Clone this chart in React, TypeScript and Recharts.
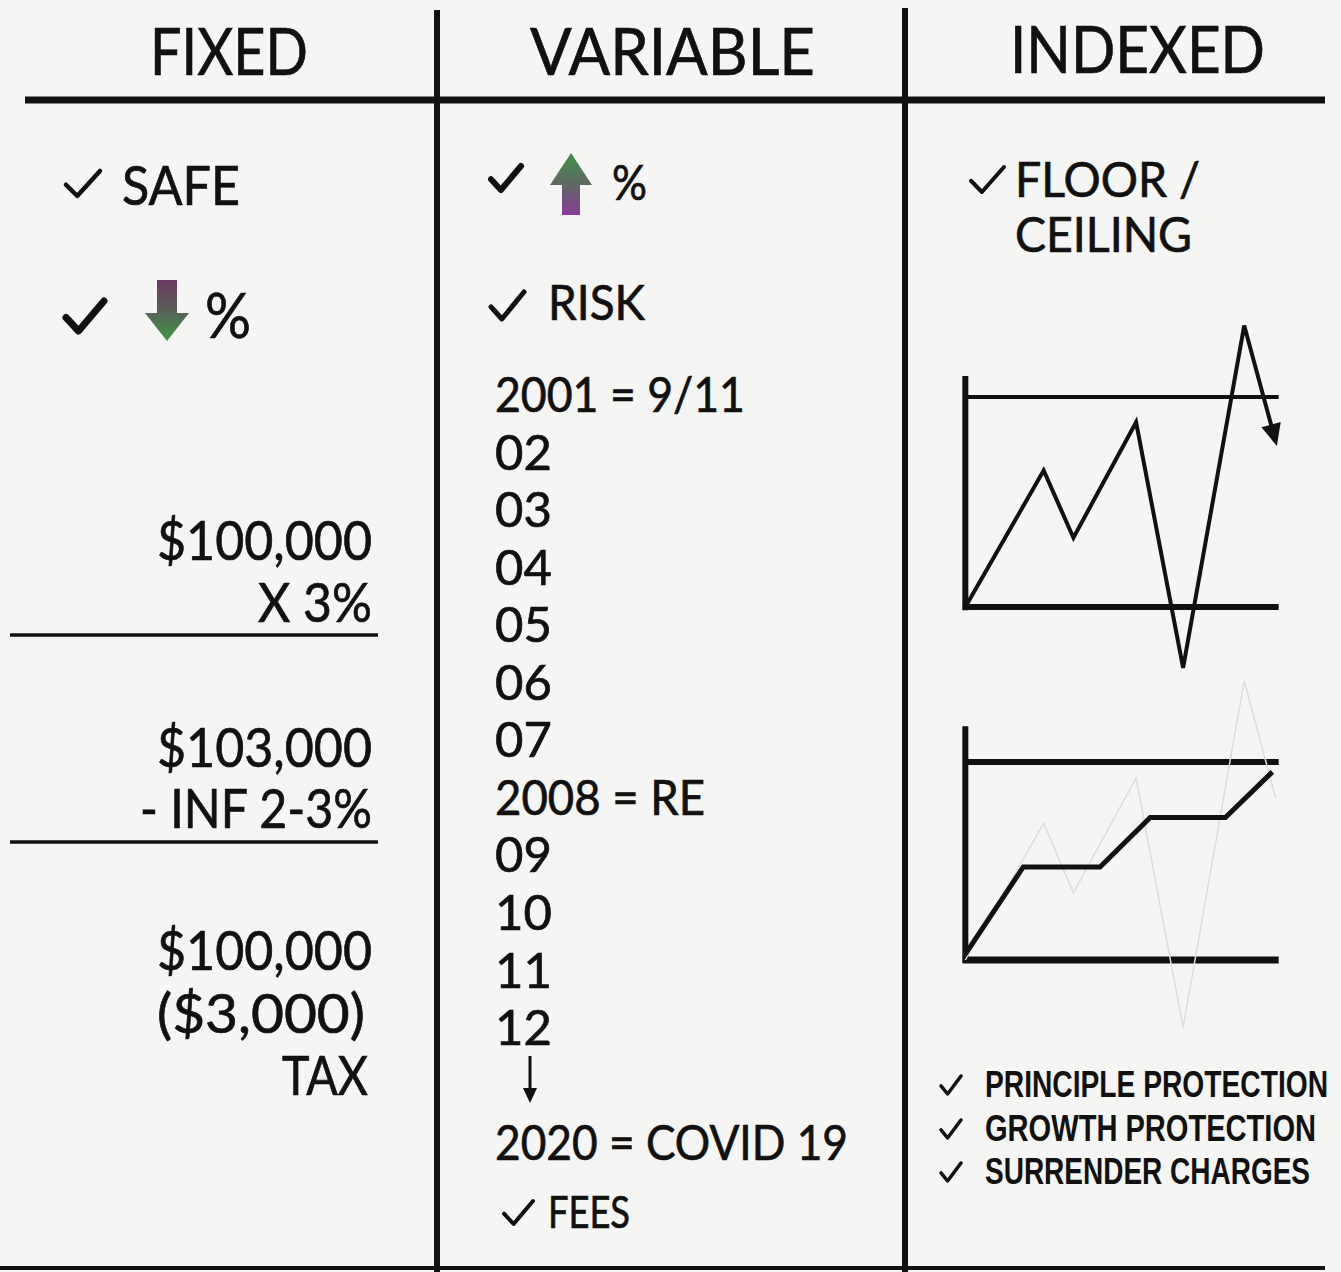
import React, { useLayoutEffect, useRef, useState } from 'react';
import { LineChart, Line, XAxis, YAxis, ReferenceLine } from 'recharts';

// ---------- data ----------
const headers = ['FIXED', 'VARIABLE', 'INDEXED'];
const fixedLines = ['$100,000', 'X 3%', '$103,000', '- INF 2-3%', '$100,000', '($3,000)', 'TAX'];
const years = ['2001 = 9/11', '02', '03', '04', '05', '06', '07', '2008 = RE', '09', '10', '11', '12'];
const covidLine = '2020 = COVID 19';
const indexedBullets = ['PRINCIPLE PROTECTION', 'GROWTH PROTECTION', 'SURRENDER CHARGES'];

const FLOOR = 0;
const CEILING = 100;
// chart 1: raw market swing (time, value)
const swingT = [0, 2.5, 3.45, 5.45, 6.95, 8.9, 9.9];
const swingV = [0, 65, 33, 88, -29, 134, 79];
// chart 2: protected (floor/ceiling) growth
const protT = [0, 1.85, 4.3, 5.9, 8.3, 9.8];
const protV = [3, 47, 47, 72, 72, 95];
// faint show-through of the swing line on chart 2
const ghostV = [0, 69, 34, 92, -34, 141, 82];

const swingData = swingT.map((t, i) => ({ t, v: swingV[i] }));
const protData = protT.map((t, i) => ({ t, v: protV[i] }));
const ghostData = swingT.map((t, i) => ({ t, v: ghostV[i] }));

const FONT = "Lato, 'DejaVu Sans', sans-serif";
const BULLET_FONT = "'Liberation Sans', Arial, sans-serif";
const INK = '#111111';

const Check = ({ x, y, w, h, sw = 5 }: any) => (
  <path
    d={`M ${x} ${y + h * 0.55} L ${x + w * 0.33} ${y + h} L ${x + w} ${y}`}
    fill="none"
    stroke={INK}
    strokeWidth={sw}
    strokeLinecap="round"
    strokeLinejoin="round"
  />
);

const T = ({ x, y, size, w, anchor, weight = 400, family = FONT, thicken = 0.7, children }: any) => {
  const sx = anchor === 'end' && w ? x - w : x;
  return (
    <text
      x={sx}
      y={y}
      fontFamily={family}
      fontSize={size}
      fontWeight={weight}
      fill={INK}
      stroke={thicken ? INK : 'none'}
      strokeWidth={thicken}
      textAnchor={anchor === 'end' && !w ? 'end' : 'start'}
      {...(w ? { textLength: w, lengthAdjust: 'spacingAndGlyphs' } : {})}
    >
      {children}
    </text>
  );
};

// HTML text squeezed horizontally to a target width
const FitText = ({ left, baseline, size, width, children }: any) => {
  const ref = useRef<HTMLSpanElement>(null);
  const [sx, setSx] = useState(0.8);
  useLayoutEffect(() => {
    if (ref.current) {
      const w = ref.current.offsetWidth;
      if (w > 0) setSx(width / w);
    }
  }, [width]);
  return (
    <span
      ref={ref}
      style={{
        position: 'absolute',
        left,
        top: baseline - size * 0.8465,
        fontFamily: BULLET_FONT,
        fontWeight: 700,
        fontSize: size,
        lineHeight: 1,
        color: INK,
        whiteSpace: 'nowrap',
        transform: `scaleX(${sx})`,
        transformOrigin: '0 0',
      }}
    >
      {children}
    </span>
  );
};

const makeArrowDot = (lastIndex: number, xScale: number, yScale: number) => (props: any) => {
  const { cx, cy, index, points, payload } = props;
  if (index !== lastIndex || cx == null) return <g key={`d${index}`} />;
  let ang: number;
  if (points && points[index - 1]) {
    const prev = points[index - 1];
    ang = Math.atan2(cy - prev.y, cx - prev.x);
  } else {
    const prev = swingData[index - 1];
    ang = Math.atan2(-(payload.v - prev.v) * yScale, (payload.t - prev.t) * xScale);
  }
  const tipX = cx + 5 * Math.cos(ang);
  const tipY = cy + 5 * Math.sin(ang);
  const L = 22;
  const W = 10;
  const bx = tipX - L * Math.cos(ang);
  const by = tipY - L * Math.sin(ang);
  const px = -Math.sin(ang);
  const py = Math.cos(ang);
  return (
    <polygon
      key={`d${index}`}
      points={`${tipX},${tipY} ${bx + W * px},${by + W * py} ${bx - W * px},${by - W * py}`}
      fill={INK}
    />
  );
};

const X_DOMAIN: [number, number] = [-1, 11];
const Y_DOMAIN: [number, number] = [-50, 150];

const MiniChart = ({ top, height, ceilW, floorW, axisTop, children }: any) => (
  <div style={{ position: 'absolute', left: 934, top, width: 376, height }}>
    <LineChart width={376} height={height} margin={{ top: 0, right: 0, bottom: 0, left: 0 }}>
      <XAxis type="number" dataKey="t" domain={X_DOMAIN} allowDataOverflow hide />
      <YAxis type="number" dataKey="v" domain={Y_DOMAIN} allowDataOverflow hide />
      <ReferenceLine
        segment={[{ x: 0, y: CEILING }, { x: 10, y: CEILING }]}
        stroke={INK}
        strokeWidth={ceilW}
      />
      <ReferenceLine
        segment={[{ x: -0.08, y: FLOOR }, { x: 10, y: FLOOR }]}
        stroke={INK}
        strokeWidth={floorW}
      />
      <ReferenceLine
        segment={[{ x: 0, y: FLOOR - 1.5 }, { x: 0, y: axisTop }]}
        stroke={INK}
        strokeWidth={6}
      />
      {children}
    </LineChart>
  </div>
);

export default function App() {
  const yearBase = 412;
  const yearStep = 57.55;
  const yearW: Record<number, number> = { 0: 250, 7: 210 };
  const fixedPos = [
    { r: 372, y: 560, w: 215 },
    { r: 372, y: 622, w: 114 },
    { r: 372, y: 767, w: 215 },
    { r: 372, y: 828, w: 232 },
    { r: 372, y: 970, w: 215 },
    { r: 365, y: 1033, w: 208 },
    { r: 368, y: 1095, w: 86 },
  ];
  const bulletBase = [1097, 1141, 1184];
  const bulletW = [343, 331, 325];
  const headerPos = [
    { x: 150, w: 158, y: 75 },
    { x: 530, w: 285, y: 75 },
    { x: 1010, w: 255, y: 73 },
  ];

  return (
    <div
      style={{
        position: 'absolute',
        left: 0,
        top: 0,
        width: 1341,
        height: 1272,
        background: '#f5f5f3',
        overflow: 'hidden',
      }}
    >
      <svg width={1341} height={1272} style={{ position: 'absolute', left: 0, top: 0 }}>
        <defs>
          <linearGradient id="downGrad" x1="0" y1="0" x2="0" y2="1">
            <stop offset="0%" stopColor="#6a3a62" />
            <stop offset="45%" stopColor="#5b5a58" />
            <stop offset="100%" stopColor="#3f9a45" />
          </linearGradient>
          <linearGradient id="upGrad" x1="0" y1="0" x2="0" y2="1">
            <stop offset="0%" stopColor="#3f9048" />
            <stop offset="50%" stopColor="#5f6a62" />
            <stop offset="100%" stopColor="#8a3a9a" />
          </linearGradient>
        </defs>

        {/* structure lines */}
        <line x1={25} y1={100} x2={1325} y2={100} stroke={INK} strokeWidth={7} />
        <line x1={437} y1={10} x2={437} y2={1272} stroke={INK} strokeWidth={6} />
        <line x1={905} y1={8} x2={905} y2={1272} stroke={INK} strokeWidth={6} />
        <line x1={0} y1={1268} x2={1325} y2={1268} stroke={INK} strokeWidth={4} />
        <line x1={10} y1={635} x2={378} y2={635} stroke={INK} strokeWidth={3.5} />
        <line x1={10} y1={842} x2={378} y2={842} stroke={INK} strokeWidth={3.5} />

        {/* headers */}
        {headers.map((h, i) => (
          <T key={h} x={headerPos[i].x} y={headerPos[i].y} size={66} w={headerPos[i].w}>
            {h}
          </T>
        ))}

        {/* FIXED column */}
        <Check x={66} y={171} w={34} h={25} sw={4.5} />
        <T x={122} y={205} size={55} w={118}>SAFE</T>
        <Check x={66} y={301} w={38} h={30} sw={7} />
        <polygon
          points="157,280 177,280 177,313 189,313 167,341 145,313 157,313"
          fill="url(#downGrad)"
        />
        <T x={205} y={338} size={62} w={46}>%</T>
        {fixedLines.map((s, i) => (
          <T key={i} x={fixedPos[i].r} y={fixedPos[i].y} size={55} w={fixedPos[i].w} anchor="end">
            {s}
          </T>
        ))}

        {/* VARIABLE column */}
        <Check x={491} y={166} w={30} h={24} sw={6} />
        <polygon
          points="571,153 592,185 580,185 580,215 562,215 562,185 550,185"
          fill="url(#upGrad)"
        />
        <T x={612} y={200} size={48} w={35}>%</T>
        <Check x={491} y={292} w={33} h={27} sw={5} />
        <T x={548} y={320} size={48} w={97}>RISK</T>
        {years.map((s, i) => (
          <T key={i} x={495} y={yearBase + i * yearStep} size={49} w={yearW[i]}>
            {s}
          </T>
        ))}
        <line x1={530} y1={1056} x2={530} y2={1092} stroke={INK} strokeWidth={3} />
        <polygon points="523,1088 537,1088 530,1103" fill={INK} />
        <T x={495} y={1160} size={49} w={353}>{covidLine}</T>
        <Check x={504} y={1201} w={29} h={23} sw={4} />
        <T x={548} y={1228} size={44} w={82}>FEES</T>

        {/* INDEXED column */}
        <Check x={971} y={167} w={33} h={25} sw={4} />
        <T x={1015} y={197} size={49} w={185}>FLOOR /</T>
        <T x={1015} y={252} size={49} w={177}>CEILING</T>
        {bulletBase.map((b, i) => (
          <Check key={i} x={941} y={b - 21} w={20} h={18} sw={3.5} />
        ))}
      </svg>

      {/* bullet texts (HTML, condensed to the reference widths) */}
      {indexedBullets.map((s, i) => (
        <FitText key={s} left={985} baseline={bulletBase[i]} size={36} width={bulletW[i]}>
          {s}
        </FitText>
      ))}

      {/* chart 1: market swing beyond floor & ceiling */}
      <MiniChart top={292} height={420} ceilW={4} floorW={6} axisTop={110}>
        <Line
          data={swingData}
          dataKey="v"
          type="linear"
          stroke={INK}
          strokeWidth={4}
          strokeLinejoin="miter"
          dot={makeArrowDot(swingData.length - 1, 376 / 12, 420 / 200)}
          activeDot={false}
          isAnimationActive={false}
        />
      </MiniChart>

      {/* chart 2: indexed growth locked between floor & ceiling */}
      <MiniChart top={663} height={396} ceilW={6} floorW={7} axisTop={118}>
        <Line
          data={ghostData}
          dataKey="v"
          type="linear"
          stroke="#dcdcdc"
          strokeWidth={1.5}
          dot={false}
          activeDot={false}
          isAnimationActive={false}
        />
        <Line
          data={protData}
          dataKey="v"
          type="linear"
          stroke={INK}
          strokeWidth={5}
          dot={false}
          activeDot={false}
          isAnimationActive={false}
        />
      </MiniChart>
    </div>
  );
}
